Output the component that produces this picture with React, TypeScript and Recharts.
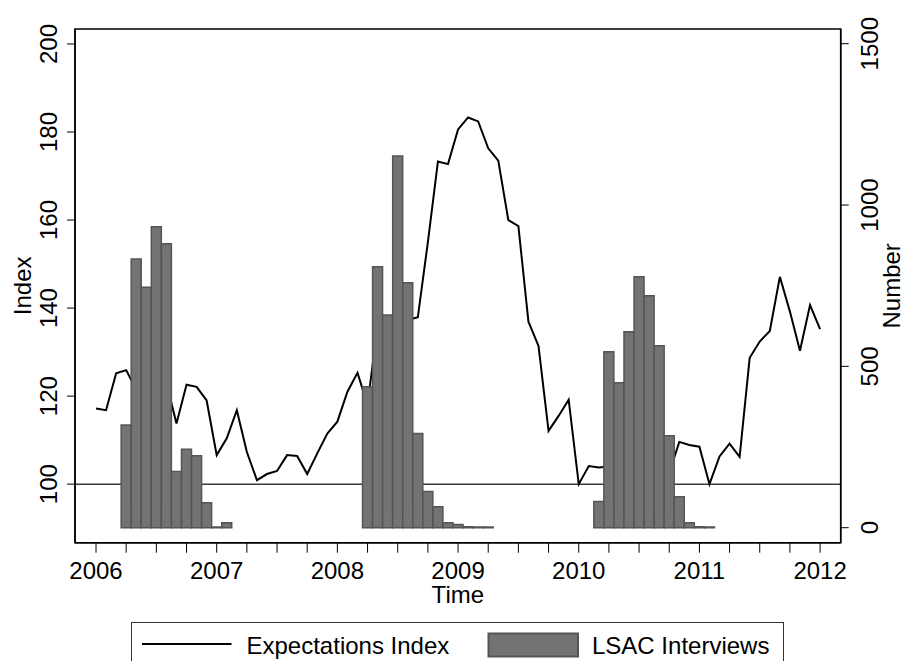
import React from 'react';
import { ComposedChart, Line, Bar, XAxis, YAxis, ReferenceLine, ReferenceArea } from 'recharts';

const FONT = '"Liberation Sans", Arial, Helvetica, sans-serif';

// monthly, 2006m1 .. 2012m1
const startYear = 2006;

const expectationsIndex = [
  117.2, 116.8, 125.2, 125.9, 121.4, 120.0, 121.0, 123.0, 113.8, 122.6, 122.1, 119.0, // 2006
  106.6, 110.4, 116.8, 107.3, 100.9, 102.3, 103.0, 106.6, 106.4, 102.3, 107.0, 111.5, // 2007
  114.2, 121.0, 125.3, 118.0, 136.0, 137.0, 137.0, 137.3, 137.9, 155.0, 173.3, 172.7, // 2008
  180.6, 183.3, 182.4, 176.3, 173.5, 160.0, 158.6, 136.9, 131.4, 112.1, 115.5, 119.2, // 2009
  100.0, 104.1, 103.8, 104.0, 106.0, 105.0, 107.0, 106.0, 104.0, 102.6, 109.6, 108.9, // 2010
  108.5, 100.0, 106.3, 109.2, 106.2, 128.7, 132.4, 134.8, 147.1, 139.2, 130.3, 140.7, // 2011
  135.2, // 2012m1
];

const lsacInterviews = [
  null, null, null, 318, 833, 745, 933, 880, 174, 243, 223, 77, // 2006
  2, 15, null, null, null, null, null, null, null, null, null, null, // 2007
  null, null, null, 437, 809, 659, 1152, 759, 292, 112, 65, 15, // 2008
  10, 3, 2, 2, null, null, null, null, null, null, null, null, // 2009
  null, null, 81, 545, 449, 607, 778, 719, 564, 285, 96, 15, // 2010
  3, 2, null, null, null, null, null, null, null, null, null, null, // 2011
  null, // 2012m1
];

const indexTicks = [100, 120, 140, 160, 180, 200];
const numberTicks = [0, 500, 1000, 1500];
const quarterTicks = Array.from({ length: 25 }, (_, k) => k * 3);

const data = expectationsIndex.map((v, i) => ({
  t: i,
  index: v,
  interviews: lsacInterviews[i],
}));

const YearTick = (props: any) => {
  const { x, y, payload } = props;
  if (payload.value % 12 !== 0) return null;
  return (
    <text x={x} y={y + 24.6} textAnchor="middle" fontSize={24} fontFamily={FONT} fill="#000">
      {startYear + payload.value / 12}
    </text>
  );
};

const LeftTick = (props: any) => {
  const { x, y, payload } = props;
  return (
    <text
      transform={`translate(${x - 8},${y}) rotate(-90)`}
      textAnchor="middle"
      fontSize={24}
      fontFamily={FONT}
      fill="#000"
    >
      {payload.value}
    </text>
  );
};

const RightTick = (props: any) => {
  const { x, y, payload } = props;
  return (
    <text
      transform={`translate(${x + 27.3},${y}) rotate(-90)`}
      textAnchor="middle"
      fontSize={24}
      fontFamily={FONT}
      fill="#000"
    >
      {payload.value}
    </text>
  );
};

const IndexLabel = (props: any) => {
  const vb = props.viewBox;
  return (
    <text
      transform={`translate(31,${vb.y + vb.height / 2}) rotate(-90)`}
      textAnchor="middle"
      fontSize={24}
      fontFamily={FONT}
      fill="#000"
    >
      Index
    </text>
  );
};

const NumberLabel = (props: any) => {
  const vb = props.viewBox;
  return (
    <text
      transform={`translate(${vb.x + 59.3},${vb.y + vb.height / 2}) rotate(-90)`}
      textAnchor="middle"
      fontSize={24}
      fontFamily={FONT}
      fill="#000"
    >
      Number
    </text>
  );
};

const TimeLabel = (props: any) => {
  const vb = props.viewBox;
  return (
    <text x={vb.x + vb.width / 2} y={vb.y + 59.8} textAnchor="middle" fontSize={24} fontFamily={FONT} fill="#000">
      Time
    </text>
  );
};

const ChartLegend = () => (
  <div
    style={{
      position: 'absolute',
      left: 130.5,
      top: 621.5,
      width: 653,
      height: 60,
      border: '1px solid #333',
      boxSizing: 'border-box',
      fontFamily: FONT,
      fontSize: 24,
    }}
  >
    <svg width={653} height={60} style={{ position: 'absolute', left: -1, top: -1 }}>
      <line x1={11} x2={100.5} y1={22} y2={22} stroke="#000" strokeWidth={2} />
      <text x={115.5} y={31.5} fontSize={24} fontFamily={FONT} fill="#000">
        Expectations Index
      </text>
      <rect x={357.5} y={11.5} width={89.5} height={23} fill="#737373" stroke="#555" strokeWidth={2} />
      <text x={461} y={31.5} fontSize={24} fontFamily={FONT} fill="#000">
        LSAC Interviews
      </text>
    </svg>
  </div>
);

export default function App() {
  return (
    <div style={{ position: 'absolute', left: 0, top: 0, width: 901, height: 661, overflow: 'hidden', background: '#fff' }}>
      <ComposedChart
        width={901}
        height={661}
        data={data}
        margin={{ top: 29, right: 0, bottom: 58.3, left: 0 }}
        barCategoryGap={0}
        barGap={0}
      >
        <XAxis
          dataKey="t"
          type="number"
          domain={[-2.09, 74.05]}
          allowDataOverflow
          ticks={quarterTicks}
          interval={0}
          tickSize={10}
          height={60}
          axisLine={{ stroke: '#000', strokeWidth: 1.5 }}
          tickLine={{ stroke: '#000', strokeWidth: 1 }}
          tick={<YearTick />}
          label={{ content: <TimeLabel /> }}
        />
        <YAxis
          yAxisId="left"
          orientation="left"
          width={75}
          domain={[86.7, 203.4]}
          allowDataOverflow
          ticks={indexTicks}
          interval={0}
          tickSize={8}
          axisLine={{ stroke: '#000', strokeWidth: 1.5 }}
          tickLine={{ stroke: '#000', strokeWidth: 1 }}
          tick={<LeftTick />}
          label={{ content: <IndexLabel /> }}
        />
        <YAxis
          yAxisId="right"
          orientation="right"
          width={60.3}
          domain={[-46.5, 1545.6]}
          allowDataOverflow
          ticks={numberTicks}
          interval={0}
          tickSize={8}
          axisLine={{ stroke: '#000', strokeWidth: 1.5 }}
          tickLine={{ stroke: '#000', strokeWidth: 1 }}
          tick={<RightTick />}
          label={{ content: <NumberLabel /> }}
        />
        <ReferenceLine yAxisId="left" y={100} stroke="#3a3a3a" strokeWidth={1.5} zIndex={100} />
        <Line
          yAxisId="left"
          dataKey="index"
          type="linear"
          stroke="#000"
          strokeWidth={2}
          dot={false}
          activeDot={false}
          isAnimationActive={false}
          zIndex={200}
        />
        <Bar
          yAxisId="right"
          dataKey="interviews"
          barSize={10}
          fill="#737373"
          stroke="#555"
          strokeWidth={1.5}
          isAnimationActive={false}
          zIndex={300}
        />
        <ReferenceArea
          yAxisId="left"
          x1={-2.09}
          x2={74.05}
          y1={86.7}
          y2={203.4}
          fill="none"
          stroke="#000"
          strokeWidth={1.5}
          ifOverflow="visible"
          zIndex={600}
        />
      </ComposedChart>
      <ChartLegend />
    </div>
  );
}
